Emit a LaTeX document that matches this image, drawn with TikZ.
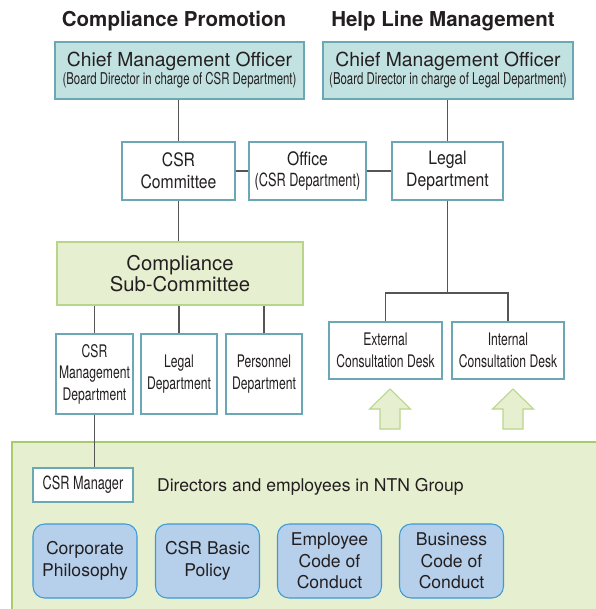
\documentclass[tikz,border=0pt]{standalone}
\usepackage{fontspec}
\setmainfont{TeX Gyre Heros}
\newfontfamily\narrowfont[FakeStretch=0.70]{TeX Gyre Heros}
\newfontfamily\midfont[FakeStretch=0.85]{TeX Gyre Heros}
\usepackage{xcolor}
\usepackage{tikz}
\usetikzlibrary{positioning, calc}
\definecolor{myink}{RGB}{35,31,32}
\definecolor{myline}{RGB}{85,85,85}
\definecolor{myteal}{RGB}{105,168,180}
\definecolor{hdrteal}{RGB}{194,225,225}
\definecolor{mygreen}{RGB}{184,214,138}
\definecolor{edgegreen}{RGB}{168,204,108}
\definecolor{hdrgreen}{RGB}{230,239,207}
\definecolor{myblue}{RGB}{60,154,214}
\definecolor{hdrblue}{RGB}{182,207,234}
\tikzset{
  headbox/.style={rectangle, draw=myteal, fill=hdrteal, line width=0.9pt,
    align=center, inner sep=0pt, minimum height=1.71cm, text=myink,
    font=\fontsize{16.5}{15.3}\selectfont},
  unitbox/.style={rectangle, draw=myteal, fill=white, line width=0.9pt,
    align=center, inner sep=0pt, text=myink},
  greenbox/.style={rectangle, draw=mygreen, fill=hdrgreen, line width=0.9pt,
    align=center, inner sep=0pt, text=myink},
  rulebox/.style={rectangle, draw=myblue, fill=hdrblue, line width=0.9pt,
    rounded corners=10pt, align=center, inner sep=0pt,
    minimum width=3.12cm, minimum height=2.22cm, text=myink,
    font=\fontsize{15}{18.4}\selectfont},
  midtext/.style={font=\midfont\fontsize{15.8}{18.4}\selectfont},
  lowtext/.style={font=\narrowfont\fontsize{14.8}{18.4}\selectfont},
  headline/.style={font=\bfseries\fontsize{17.5}{20}\selectfont, text=myink},
  link/.style={draw=myline, line width=1pt}
}

\begin{document}
\begin{tikzpicture}[x=0.03cm, y=-0.03cm]
  \useasboundingbox (0,0) rectangle (596,609);

  % Group area (bottom)
  \fill[hdrgreen] (12,442) rectangle (600,612);
  \draw[edgegreen, line width=1.2pt] (12,612) -- (12,442) -- (600,442);

  % Column headings
  \node[headline] (hcomp) at (174,21) {Compliance Promotion};
  \node[headline] (hhelp) at (443,21) {Help Line Management};

  % Chief Management Officers
  \node[headbox, minimum width=7.47cm] (cmoL) at (179.5,70.5) {
    Chief Management Officer\\
    {\narrowfont\fontsize{13.9}{15.3}\selectfont (Board Director in charge of CSR Department)}
  };
  \node[headbox, minimum width=7.5cm] (cmoR) at (448,70.5) {
    Chief Management Officer\\
    {\narrowfont\fontsize{13.9}{15.3}\selectfont (Board Director in charge of Legal Department)}
  };

  % Committee row
  \node[unitbox, midtext, minimum width=3.39cm, minimum height=1.74cm] (csrc) at (178.5,171) {CSR\\Committee};
  \node[unitbox, midtext, minimum width=3.51cm, minimum height=1.74cm] (office) at (307.5,171) {
    Office\\{\narrowfont\fontsize{15.5}{18.4}\selectfont (CSR Department)}};
  \node[unitbox, midtext, minimum width=3.33cm, minimum height=1.74cm] (legal) at (447.5,171) {Legal\\Department};

  % Sub-committee and its departments
  \node[greenbox, minimum width=7.38cm, minimum height=1.89cm,
    font=\fontsize{17.3}{18.4}\selectfont] (subc) at (180,273.5) {Compliance\\Sub-Committee};
  \node[unitbox, lowtext, minimum width=2.31cm, minimum height=2.4cm] (csrmd) at (94.5,374) {CSR\\Management\\Department};
  \node[unitbox, lowtext, minimum width=2.28cm, minimum height=2.4cm] (legal2) at (179,374) {Legal\\Department};
  \node[unitbox, lowtext, minimum width=2.28cm, minimum height=2.4cm] (pers) at (264,374) {Personnel\\Department};

  % Consultation desks
  \node[unitbox, lowtext, minimum width=3.39cm, minimum height=1.71cm] (ext) at (385.5,350.5) {External\\Consultation Desk};
  \node[unitbox, lowtext, minimum width=3.36cm, minimum height=1.71cm] (int) at (508,350.5) {Internal\\Consultation Desk};
  \coordinate (fork) at (447.5,293);

  % Group members and rules
  \node[unitbox, font=\narrowfont\fontsize{15.5}{18.4}\selectfont,
    minimum width=3.0cm, minimum height=1.02cm] (csrm) at (83,485) {CSR Manager};
  \node[anchor=west, text=myink, font=\fontsize{15}{18}\selectfont] (staff) at (153,487) {Directors and employees in NTN Group};
  \node[rulebox] (phil) at (85,561) {Corporate\\Philosophy};
  \node[rulebox] (basic) at (207.5,561) {CSR Basic\\Policy};
  \node[rulebox] (ecode) at (329.5,561) {Employee\\Code of\\Conduct};
  \node[rulebox] (bcode) at (451.5,561) {Business\\Code of\\Conduct};

  % Connections
  \draw[link] (csrc.north) -- (csrc.north |- cmoL.south);
  \draw[link] (legal.north) -- (legal.north |- cmoR.south);
  \draw[link] (csrc) -- (office);
  \draw[link] (office) -- (legal);
  \draw[link] (csrc.south) -- (csrc.south |- subc.north);
  \foreach \dep in {csrmd, legal2, pers}
    \draw[link] (\dep.north) -- (\dep.north |- subc.south);
  \draw[link] (csrmd.south) -- (csrmd.south |- csrm.north);
  \draw[link] (legal.south) -- (fork);
  \draw[link] (ext.north) |- (fork) -| (int.north);

  % Feedback arrows from the group
  \foreach \ax in {390,513}
    \draw[draw=mygreen, fill=hdrgreen, line width=0.9pt]
      (\ax,389) -- (\ax+20.5,409) -- (\ax+10,409) -- (\ax+10,429)
      -- (\ax-10,429) -- (\ax-10,409) -- (\ax-20.5,409) -- cycle;
\end{tikzpicture}
\end{document}
